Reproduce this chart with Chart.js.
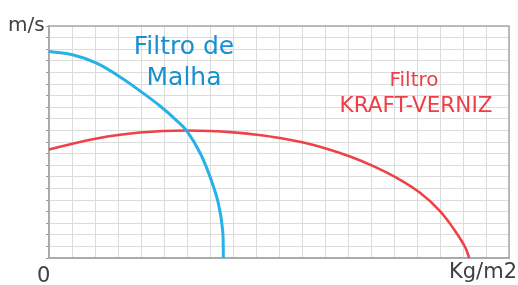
<!DOCTYPE html>
<html>
<head>
<meta charset="utf-8">
<script src="https://cdn.jsdelivr.net/npm/chart.js@4/dist/chart.umd.min.js"></script>
<style>
  html, body { margin: 0; padding: 0; background: #fff; }
  #wrap { width: 518px; height: 285px; position: relative; }
</style>
</head>
<body>
<div id="wrap"><canvas id="c"></canvas></div>
<script>
// grid units: 20 columns x 20 rows
const malhaX = [0, 1.06, 2.07, 3.09, 3.96, 4.83, 5.55, 5.99, 6.57, 7.0, 7.36, 7.55, 7.58];
const malhaY = [17.8, 17.5, 16.8, 15.6, 14.4, 13.1, 11.85, 10.95, 9.05, 7.0, 4.74, 2.4, 0];

const kraftX = [0, 1.06, 2.07, 3.09, 3.96, 4.97, 5.99, 7.0, 8.01, 9.03, 10.04, 11.06, 12.07, 13.09, 14.1, 15.12, 16.13, 17.0, 17.65, 18.09, 18.27];
const kraftY = [9.35, 9.88, 10.3, 10.62, 10.82, 10.95, 10.99, 10.95, 10.83, 10.63, 10.35, 9.95, 9.42, 8.75, 7.92, 6.9, 5.62, 4.05, 2.35, 0.95, 0];

const labels = {
  yUnit: 'm/s',
  xUnit: 'Kg/m2',
  origin: '0',
  malha: ['Filtro de', 'Malha'],
  kraft: ['Filtro', 'KRAFT-VERNIZ']
};

const toPoints = (xs, ys) => xs.map((x, i) => ({ x, y: ys[i] }));

const font = '"DejaVu Sans", Verdana, sans-serif';

const frame = {
  id: 'frame',
  beforeDatasetsDraw(chart) {
    const { ctx, chartArea: a } = chart;
    ctx.save();
    ctx.strokeStyle = '#a8a8a8';
    ctx.lineWidth = 1.5;
    ctx.strokeRect(a.left, a.top, a.right - a.left, a.bottom - a.top);
    ctx.restore();
  },
  afterDraw(chart) {
    const { ctx, chartArea: a } = chart;
    ctx.save();
    ctx.textBaseline = 'alphabetic';

    ctx.fillStyle = '#404040';
    ctx.font = '20px ' + font;
    ctx.textAlign = 'left';
    ctx.fillText(labels.yUnit, 8, 31);
    ctx.font = '21px ' + font;
    ctx.fillText(labels.origin, a.left - 12, 282);
    ctx.textAlign = 'right';
    ctx.fillText(labels.xUnit, 517, 278);

    ctx.textAlign = 'center';
    ctx.fillStyle = '#1a8fd0';
    ctx.font = '25px ' + font;
    ctx.fillText(labels.malha[0], 184, 54);
    ctx.fillText(labels.malha[1], 184, 85);

    ctx.fillStyle = '#ec3f47';
    ctx.font = '20px ' + font;
    ctx.fillText(labels.kraft[0], 414, 86);
    ctx.font = '21.5px ' + font;
    ctx.fillText(labels.kraft[1], 416, 112);
    ctx.restore();
  }
};

new Chart(document.getElementById('c'), {
  type: 'scatter',
  data: {
    datasets: [
      {
        data: toPoints(malhaX, malhaY),
        showLine: true,
        borderColor: '#27b1e6',
        borderWidth: 3,
        pointRadius: 0,
        tension: 0.4,
        clip: false
      },
      {
        data: toPoints(kraftX, kraftY),
        showLine: true,
        borderColor: '#ee4249',
        borderWidth: 2.6,
        pointRadius: 0,
        tension: 0.4,
        clip: false
      }
    ]
  },
  options: {
    responsive: true,
    maintainAspectRatio: false,
    animation: false,
    layout: {
      padding: { left: 46, right: 9, top: 26, bottom: 27 }
    },
    scales: {
      x: {
        type: 'linear',
        min: 0,
        max: 20,
        ticks: { display: false, stepSize: 1 },
        grid: { color: '#dcdcdc', lineWidth: 1, drawTicks: false },
        border: { color: '#a8a8a8', width: 1.5 }
      },
      y: {
        type: 'linear',
        min: 0,
        max: 20,
        ticks: { display: false, stepSize: 1 },
        grid: { color: '#dcdcdc', lineWidth: 1, drawTicks: true, tickLength: 3, tickColor: '#999' },
        border: { color: '#a8a8a8', width: 1.5 }
      }
    },
    plugins: {
      legend: { display: false },
      tooltip: { enabled: false }
    }
  },
  plugins: [frame]
});
</script>
</body>
</html>
